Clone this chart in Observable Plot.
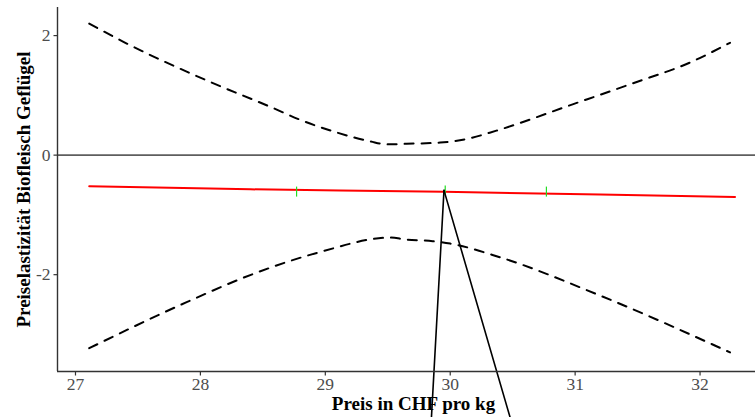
<!DOCTYPE html>
<html>
<head>
<meta charset="utf-8">
<script src="https://cdn.jsdelivr.net/npm/d3@7"></script>
<script src="https://cdn.jsdelivr.net/npm/@observablehq/plot@0.6"></script>
<style>
  html, body { margin: 0; padding: 0; background: #fff; }
  #chart { width: 755px; height: 417px; overflow: hidden; }
  #chart svg { max-width: none !important; }
</style>
</head>
<body>
<div id="chart"></div>
<script>
// ---- data ----
const xTicks = [27, 28, 29, 30, 31, 32];
const yTicks = [-2, 0, 2];
const xTickLabels = ["27", "28", "29", "30", "31", "32"];
const yTickLabels = ["-2", "0", "2"];
const xDomain = [26.856, 32.556];
const yDomain = [-3.62, 2.47];
const refLine = [0];

// fitted elasticity (red line)
const fitPrice = [27.11, 28.4, 29.12, 29.95, 31.2, 32.28];
const fitElast = [-0.52, -0.572, -0.59, -0.613, -0.66, -0.70];

// upper confidence band (dashed)
const upperPrice = [27.11, 27.38, 28.05, 28.58, 28.8, 29.09, 29.36, 29.49, 29.65, 29.92, 30.13, 30.37, 30.98, 31.46, 31.92, 32.24];
const upperElast = [2.20, 1.90, 1.25, 0.79, 0.59, 0.38, 0.23, 0.18, 0.19, 0.21, 0.27, 0.41, 0.85, 1.20, 1.55, 1.88];

// lower confidence band (dashed)
const lowerPrice = [27.11, 27.89, 28.42, 28.96, 29.52, 29.64, 29.86, 30.0, 30.4, 31.2, 32.24];
const lowerElast = [-3.23, -2.46, -1.99, -1.62, -1.38, -1.41, -1.44, -1.48, -1.71, -2.35, -3.30];

// observed points (green ticks)
const obsPrice = [28.77, 29.96, 30.77];
const obsElast = [-0.61, -0.59, -0.61];

// black leader lines
const leaderLeftPrice = [29.95, 29.848];
const leaderLeftElast = [-0.59, -4.45];
const leaderRightPrice = [29.95, 30.488];
const leaderRightElast = [-0.59, -4.45];

const xTitle = "Preis in CHF pro kg";
const yTitle = "Preiselastizität Biofleisch Geflügel";

// ---- build ----
const zip = (xs, ys) => xs.map((x, i) => ({x, y: ys[i]}));
const fit = zip(fitPrice, fitElast);
const upper = zip(upperPrice, upperElast);
const lower = zip(lowerPrice, lowerElast);
const obs = zip(obsPrice, obsElast);
const leftLeader = zip(leaderLeftPrice, leaderLeftElast);
const rightLeader = zip(leaderRightPrice, leaderRightElast);
const xTickData = xTicks.map((v, i) => ({v, label: xTickLabels[i]}));
const yTickData = yTicks.map((v, i) => ({v, label: yTickLabels[i]}));

const radius = size => Math.sqrt(size / Math.PI);
const vbar = {draw(c, s) { const h = radius(s); c.moveTo(0, -h); c.lineTo(0, h); }};
const tickDown = {draw(c, s) { const h = radius(s); c.moveTo(0, 0); c.lineTo(0, h); }};
const tickLeft = {draw(c, s) { const h = radius(s); c.moveTo(0, 0); c.lineTo(-h, 0); }};

const serif = "'Liberation Serif', 'DejaVu Serif', serif";

const plot = Plot.plot({
  width: 769,
  height: 417,
  marginLeft: 57,
  marginRight: 0,
  marginTop: 7,
  marginBottom: 46,
  style: {fontFamily: serif, fontSize: "17px", maxWidth: "none", background: "#fff"},
  x: {domain: xDomain, axis: null},
  y: {domain: yDomain, axis: null},
  marks: [
    Plot.text([xTitle], {frameAnchor: "bottom", dy: 32.5, lineAnchor: "middle", textAnchor: "middle",
      fontWeight: "bold", fontSize: 19, fill: "#000", fontFamily: serif}),
    Plot.text([yTitle], {frameAnchor: "left", dx: -34, rotate: -90, lineAnchor: "middle", textAnchor: "middle",
      fontWeight: "bold", fontSize: 19, fill: "#000", fontFamily: serif}),
    Plot.ruleY(refLine, {stroke: "#5e5e5e", strokeWidth: 1.6}),
    Plot.line(upper, {x: "x", y: "y", stroke: "#000", strokeWidth: 2, strokeDasharray: "9,8", curve: "monotone-x"}),
    Plot.line(lower, {x: "x", y: "y", stroke: "#000", strokeWidth: 2, strokeDasharray: "9,8", curve: "monotone-x"}),
    Plot.line(fit, {x: "x", y: "y", stroke: "#ff0000", strokeWidth: 2}),
    Plot.dot(obs, {x: "x", y: "y", r: 5, symbol: vbar, stroke: "#22dd22", strokeWidth: 1.2, fill: "none"}),
    Plot.line(leftLeader, {x: "x", y: "y", stroke: "#000", strokeWidth: 1.6}),
    Plot.line(rightLeader, {x: "x", y: "y", stroke: "#000", strokeWidth: 1.6}),
    Plot.ruleX([xDomain[0]], {stroke: "#333", strokeWidth: 1.4}),
    Plot.ruleY([yDomain[0]], {stroke: "#333", strokeWidth: 1.4}),
    // x ticks + labels
    Plot.dot(xTickData, {x: "v", y: () => yDomain[0], r: 4, symbol: tickDown, stroke: "#333", strokeWidth: 1.2, fill: "none"}),
    Plot.text(xTickData, {x: "v", frameAnchor: "bottom", dy: 6.5, lineAnchor: "top", text: "label",
      fontSize: 17.5, fontFamily: serif, fill: "#4d4d4d"}),
    // y ticks + labels
    Plot.dot(yTickData, {x: () => xDomain[0], y: "v", r: 4, symbol: tickLeft, stroke: "#333", strokeWidth: 1.2, fill: "none"}),
    Plot.text(yTickData, {y: "v", frameAnchor: "left", dx: -7, textAnchor: "end", lineAnchor: "middle", text: "label",
      fontSize: 17.5, fontFamily: serif, fill: "#4d4d4d"})
  ]
});
document.getElementById("chart").appendChild(plot);
</script>
</body>
</html>
